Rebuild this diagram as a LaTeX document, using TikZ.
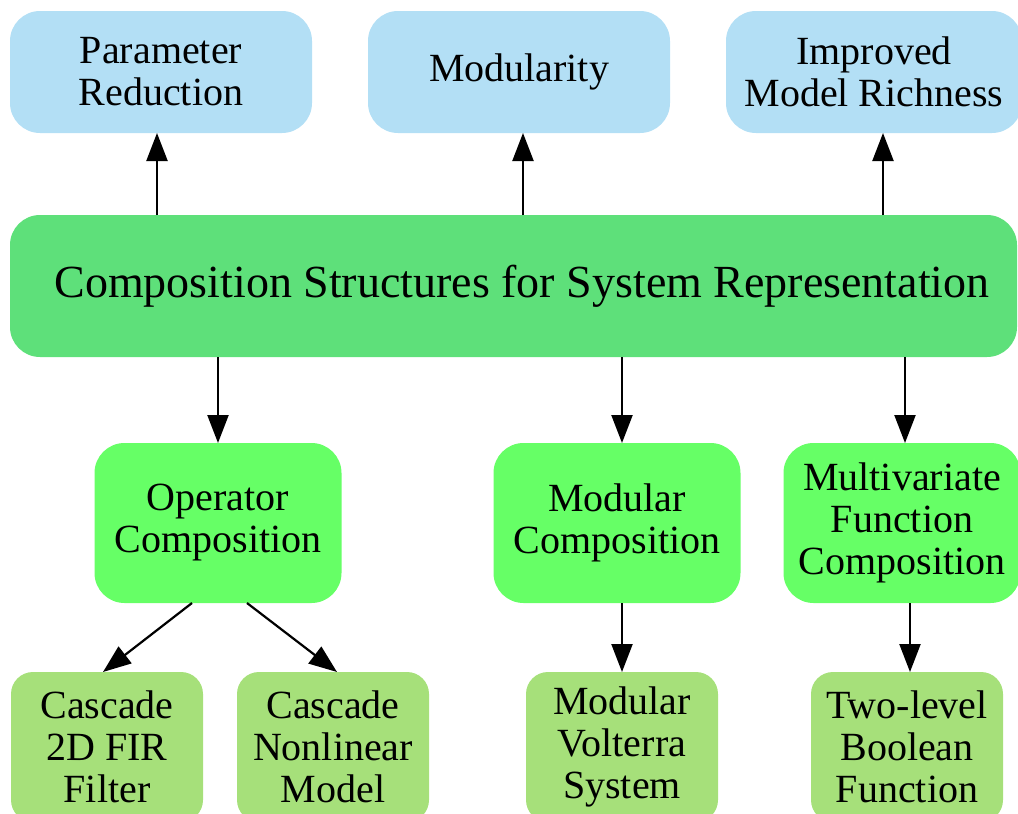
\documentclass[tikz,border=0pt]{standalone}
\usepackage{fontspec}
\setmainfont{Liberation Serif}
\usetikzlibrary{arrows.meta}
\definecolor{goalblue}{RGB}{179,223,245}
\definecolor{rootgreen}{RGB}{94,224,122}
\definecolor{kindgreen}{RGB}{102,255,102}
\definecolor{leafgreen}{RGB}{166,224,122}

\begin{document}
\begin{tikzpicture}[
 x=1pt, y=-1pt,
    box/.style = {rectangle, rounded corners=#1, align=center,
                  inner sep=0pt, outer sep=0pt,
                  font=\fontsize{40}{42}\selectfont},
   goal/.style = {box=30pt, fill=goalblue,
                  minimum width=302pt, minimum height=122pt},
   root/.style = {box=30pt, fill=rootgreen,
                  minimum width=1007pt, minimum height=142pt,
                  font=\fontsize{46}{48}\selectfont},
   kind/.style = {box=30pt, fill=kindgreen,
                  minimum width=247pt, minimum height=160pt},
   leaf/.style = {box=22pt, fill=leafgreen,
                  minimum width=192pt, minimum height=150pt},
    arr/.style = {-{Triangle[length=28pt,width=21pt]}, line width=2.2pt},
                        ]
\useasboundingbox (0,0) rectangle (1018,814);

% benefits
\node[goal] (pr)  at (161,72) {Parameter\\ Reduction};
\node[goal] (mod) at (519,72) {Modularity};
\node[goal, minimum width=296pt] (imp) at (874,72) {Improved\\ Model Richness};

\node[root] (cs) at (513.5,286) {\hspace*{17pt}Composition Structures for System Representation};

% kinds of composition
\node[kind] (op)  at (218,523) {Operator\\ Composition};
\node[kind] (mc)  at (617,523) {Modular\\ Composition};
\node[kind, minimum width=237pt] (mfc) at (902,523) {Multivariate\\ Function\\ Composition};

% examples
\node[leaf] (fir) at (107,747) {Cascade\\ 2D FIR\\ Filter};
\node[leaf] (nl)  at (333,747) {Cascade\\ Nonlinear\\ Model};
\node[leaf] (vs)  at (622,747) {Modular\\ Volterra\\ System};
\node[leaf] (bf)  at (907,747) {Two-level\\ Boolean\\ Function};

\draw[arr] ([xshift=-4pt]cs.north -| pr) -- ([xshift=-4pt]pr.south);
\draw[arr] ([xshift=4pt]cs.north -| mod) -- ([xshift=4pt]mod.south);
\draw[arr] ([xshift=9pt]cs.north -| imp) -- ([xshift=9pt]imp.south);

\draw[arr] (cs.south -| op)  -- (op.north);
\draw[arr] ([xshift=5pt]cs.south -| mc)  -- ([xshift=5pt]mc.north);
\draw[arr] ([xshift=3pt]cs.south -| mfc) -- ([xshift=3pt]mfc.north);

\draw[arr] ([xshift=-26pt]op.south) -- ([xshift=-4pt]fir.north);
\draw[arr] ([xshift=29pt]op.south)  -- ([xshift=4pt]nl.north);
\draw[arr] ([xshift=5pt]mc.south)   -- (vs.north);
\draw[arr] ([xshift=8pt]mfc.south)  -- ([xshift=3pt]bf.north);

\end{tikzpicture}
\end{document}
